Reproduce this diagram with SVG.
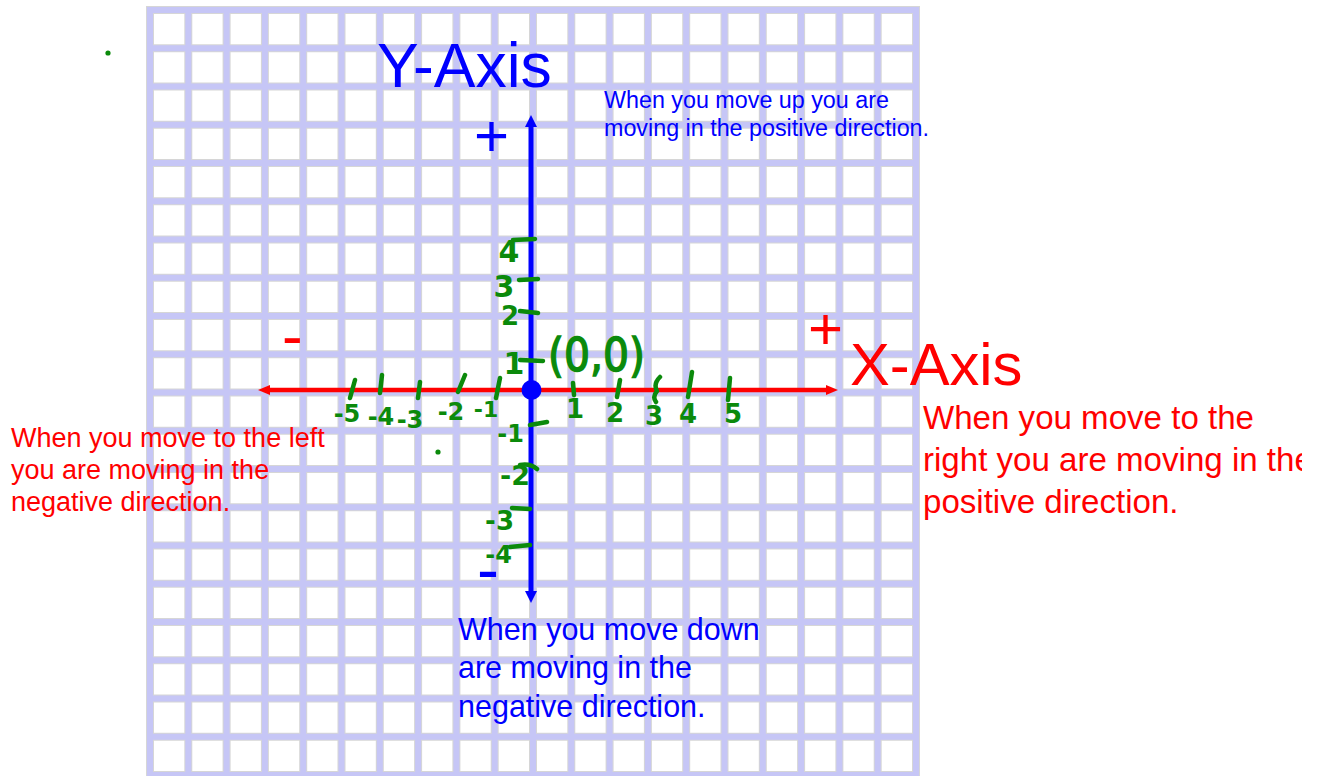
<svg xmlns="http://www.w3.org/2000/svg" width="1323" height="776" viewBox="0 0 1323 776">
<style>
.gs{stroke:#d6d6d6;stroke-width:8;fill:none}
.gl{stroke:#c6c6f6;stroke-width:6;fill:none}
.t{font-family:"Liberation Sans",Arial,sans-serif}
.blue{fill:#0000ff}
.red{fill:#ff0000}
.hw{stroke:#0b8a0b;stroke-width:4.5;fill:none;stroke-linecap:round;stroke-linejoin:round}
.hwt{font-family:"DejaVu Sans","Liberation Sans",sans-serif;fill:#0b8a0b}
</style>
<defs>
<marker id="ab" markerUnits="userSpaceOnUse" markerWidth="12" markerHeight="12" refX="0" refY="6" orient="auto-start-reverse"><path d="M0,0 L12,6 L0,12 z" fill="#0000ff"/></marker>
<marker id="ar" markerUnits="userSpaceOnUse" markerWidth="12" markerHeight="12" refX="0" refY="6" orient="auto-start-reverse"><path d="M0,1 L12,6 L0,11 z" fill="#ff0000"/></marker>
<clipPath id="clipR"><rect x="0" y="0" width="1302" height="776"/></clipPath>
</defs>
<rect width="1323" height="776" fill="#ffffff"/>
<g id="grid">
<path class="gs" d="M150,6V780M188.3,6V780M226.6,6V780M264.9,6V780M303.2,6V780M341.5,6V780M379.8,6V780M418.1,6V780M456.4,6V780M494.7,6V780M533,6V780M571.3,6V780M609.6,6V780M647.9,6V780M686.2,6V780M724.5,6V780M762.8,6V780M801.1,6V780M839.4,6V780M877.7,6V780M916,6V780"/>
<path class="gs" d="M146,10H920M146,48.25H920M146,86.5H920M146,124.75H920M146,163H920M146,201.25H920M146,239.5H920M146,277.75H920M146,316H920M146,354.25H920M146,392.5H920M146,430.75H920M146,469H920M146,507.25H920M146,545.5H920M146,583.75H920M146,622H920M146,660.25H920M146,698.5H920M146,736.75H920M146,775H920"/>
<path class="gl" d="M150,7V780M188.3,7V780M226.6,7V780M264.9,7V780M303.2,7V780M341.5,7V780M379.8,7V780M418.1,7V780M456.4,7V780M494.7,7V780M533,7V780M571.3,7V780M609.6,7V780M647.9,7V780M686.2,7V780M724.5,7V780M762.8,7V780M801.1,7V780M839.4,7V780M877.7,7V780M916,7V780"/>
<path class="gl" d="M147,10H919M147,48.25H919M147,86.5H919M147,124.75H919M147,163H919M147,201.25H919M147,239.5H919M147,277.75H919M147,316H919M147,354.25H919M147,392.5H919M147,430.75H919M147,469H919M147,507.25H919M147,545.5H919M147,583.75H919M147,622H919M147,660.25H919M147,698.5H919M147,736.75H919M147,775H919"/>
</g>
<g id="connectors">
<line x1="270" y1="390" x2="826" y2="390" stroke="#ff0000" stroke-width="4.5" marker-start="url(#ar)" marker-end="url(#ar)"/>
<line x1="531" y1="127" x2="531" y2="591" stroke="#0000ff" stroke-width="5" marker-start="url(#ab)" marker-end="url(#ab)"/>
</g>
<g id="origin"><circle cx="531.5" cy="390" r="10" fill="#0000ff"/></g>
<g id="y-axis-label"><text class="t blue" x="377" y="87" font-size="62.5">Y-Axis</text></g>
<g id="x-axis-label"><text class="t red" x="850" y="385" font-size="59.7">X-Axis</text></g>
<g id="y-plus"><text class="t blue" x="474" y="156" font-size="60">+</text></g>
<g id="y-minus"><text class="t blue" x="477" y="592" font-size="66">-</text></g>
<g id="x-plus"><text class="t red" x="808" y="349" font-size="60">+</text></g>
<g id="x-minus"><text class="t red" x="282" y="357" font-size="62">-</text></g>
<g id="note-up"><text class="t blue" font-size="23.3"><tspan x="604" y="108">When you move up you are</tspan><tspan x="604" y="136">moving in the positive direction.</tspan></text></g>
<g id="note-left"><text class="t red" font-size="27"><tspan x="11" y="447">When you move to the left</tspan><tspan x="11" y="479">you are moving in the</tspan><tspan x="11" y="511">negative direction.</tspan></text></g>
<g id="note-right" clip-path="url(#clipR)"><text class="t red" font-size="33.1"><tspan x="923" y="429">When you move to the</tspan><tspan x="923" y="471">right you are moving in the</tspan><tspan x="923" y="513">positive direction.</tspan></text></g>
<g id="note-down"><text class="t blue" font-size="30.5"><tspan x="458" y="640">When you move down</tspan><tspan x="458" y="678">are moving in the</tspan><tspan x="458" y="717">negative direction.</tspan></text></g>
<g id="handwriting">
<path class="hw" d="M513,240 L535,239 M519,280 L538,279 M520,311 L538,313 M520,360 L543,361 M530,425 L547,422 M520,465 Q530,463 537,469 M512,508 L530,509 M510,547 L530,545"/>
<path class="hw" d="M355,380 L350,398 M382,375 L380,393 M420,382 L418,398 M465,375 L458,392 M500,378 L496,398 M573,383 L574,395 M620,380 L617,397 M660,377 Q653,384 657,391 Q652,397 656,402 M692,372 L688,397 M730,378 L728,400"/>
<circle cx="108" cy="53" r="2.6" fill="#0b8a0b"/>
<circle cx="438" cy="452" r="2.6" fill="#0b8a0b"/>
<text class="hwt" x="509" y="262" text-anchor="middle" font-size="30" font-weight="bold">4</text>
<text class="hwt" x="504" y="297" text-anchor="middle" font-size="30" font-weight="bold">3</text>
<text class="hwt" x="510" y="325" text-anchor="middle" font-size="26" font-weight="bold">2</text>
<text class="hwt" x="514" y="374" text-anchor="middle" font-size="30" font-weight="bold">1</text>
<text class="hwt" x="524" y="442" text-anchor="end" font-size="24" font-weight="bold">-1</text>
<text class="hwt" x="530" y="485" text-anchor="end" font-size="27" font-weight="bold">-2</text>
<text class="hwt" x="514" y="530" text-anchor="end" font-size="26" font-weight="bold">-3</text>
<text class="hwt" x="512" y="563" text-anchor="end" font-size="24" font-weight="bold">-4</text>
<text class="hwt" x="575" y="418" text-anchor="middle" font-size="26" font-weight="bold">1</text>
<text class="hwt" x="615" y="422" text-anchor="middle" font-size="26" font-weight="bold">2</text>
<text class="hwt" x="654" y="425" text-anchor="middle" font-size="26" font-weight="bold">3</text>
<text class="hwt" x="688" y="423" text-anchor="middle" font-size="26" font-weight="bold">4</text>
<text class="hwt" x="733" y="423" text-anchor="middle" font-size="26" font-weight="bold">5</text>
<text class="hwt" x="347" y="422" text-anchor="middle" font-size="24" font-weight="bold">-5</text>
<text class="hwt" x="381" y="425" text-anchor="middle" font-size="24" font-weight="bold">-4</text>
<text class="hwt" x="410" y="428" text-anchor="middle" font-size="24" font-weight="bold">-3</text>
<text class="hwt" x="451" y="420" text-anchor="middle" font-size="24" font-weight="bold">-2</text>
<text class="hwt" x="486" y="417" text-anchor="middle" font-size="22" font-weight="bold">-1</text>
<text class="hwt" x="548" y="371" font-size="46" stroke="#0b8a0b" stroke-width="1.5" textLength="97" lengthAdjust="spacingAndGlyphs">(0,0)</text>
</g>
</svg>
